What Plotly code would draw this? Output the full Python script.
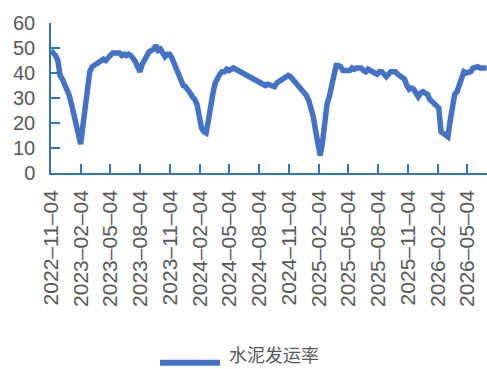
import pandas as pd
import plotly.graph_objects as go

# Weekly cement shipment rate (%), first observation 2022-11-04
start_date = "2022-11-04"
shipment_rate = [
    49, 48, 47, 45, 39, 37.5, 35.5, 34, 31, 27.5,
    23, 18, 13.5, 11.5, 19, 27, 35, 40.5, 42.5, 43,
    43.5, 44, 44.5, 45.5, 45, 46.5, 47, 48, 48, 47.5,
    48, 47, 47.5, 47, 47.5, 47, 46, 44.5, 42.5, 40.5,
    43.5, 45, 47.5, 48.5, 49, 49.5, 51, 49, 49.5, 48,
    46.5, 47.5, 47.5, 46, 43.5, 41, 39, 37, 35, 34.5,
    33.5, 32, 30.5, 29.5, 27.5, 21, 18, 16.5, 16, 21,
    28, 32, 36, 38, 39.5, 40.5, 40.5, 41.5, 41, 41.5,
    42, 41.5, 41, 40.5, 39.5, 39, 38.5, 38, 37.5, 37.5,
    37, 36, 36, 35.5, 35, 35.5, 35, 35, 34.5, 36,
    36.5, 37.5, 38, 38.5, 39, 38.5, 37.5, 36.5, 35, 34,
    33, 32, 31, 29, 26, 22.5, 17, 12, 7, 12,
    21, 27.5, 30.5, 34, 38.5, 43, 43, 42.5, 41, 41,
    40.5, 41, 42, 41.5, 42, 42, 42, 41, 40.5, 41.5,
    41, 41, 40, 39.5, 40.5, 40.5, 39.5, 38.5, 39.5, 40.5,
    40.5, 40.5, 39.5, 39, 38, 37.5, 35, 33.5, 34, 33.5,
    32, 30.5, 32, 32.5, 32, 31.5, 29.5, 28.5, 27.5, 27,
    26, 16.5, 16, 15.5, 14.5, 21, 28, 31.5, 32.5, 35,
    39, 40.5, 40, 40, 40.5, 42, 42.5, 42.5, 42, 42,
    42, 42,
]
dates = pd.date_range(start_date, periods=len(shipment_rate), freq="7D")

series_name = "水泥发运率"
line_color = "#4472C4"
axis_color = "#2E75B6"
tick_font = dict(family="Liberation Sans, Arial, sans-serif", color="#595959")

fig = go.Figure()
fig.add_trace(go.Scatter(
    x=dates, y=shipment_rate, mode="lines", name=series_name,
    line=dict(color=line_color, width=5.5), showlegend=False,
))

fig.update_xaxes(
    type="date", range=["2022-11-04", "2026-07-04"],
    tick0="2022-11-04", dtick="M3", tickformat="%Y–%m–%d",
    tickangle=-90, ticks="inside", ticklen=9, tickwidth=1.5, tickcolor=axis_color,
    showline=True, linecolor=axis_color, linewidth=1.5,
    showgrid=False, zeroline=False,
    tickfont=dict(size=21, **tick_font), ticklabelstandoff=7,
)
fig.update_yaxes(
    range=[0, 60], dtick=10, tick0=0,
    ticks="inside", ticklen=9, tickwidth=1.5, tickcolor=axis_color,
    showline=True, linecolor=axis_color, linewidth=1.5,
    showgrid=False, zeroline=False,
    tickfont=dict(size=20, **tick_font), ticklabelstandoff=10,
)

# Legend drawn as a long swatch plus label under the axis labels
fig.add_shape(type="line", xref="paper", yref="paper",
              x0=0.25, x1=0.3876, y0=-1.265, y1=-1.265,
              line=dict(color=line_color, width=6))
fig.add_annotation(text=series_name, xref="paper", yref="paper",
                   x=0.406, y=-1.297, xanchor="left", yanchor="bottom",
                   showarrow=False, borderpad=0,
                   font=dict(family="Noto Sans CJK SC", size=18, color="#595959"))

fig.update_layout(
    width=487, height=369,
    margin=dict(l=51, r=0, t=23, b=196),
    paper_bgcolor="white", plot_bgcolor="white",
)

fig.write_html("out.html")
